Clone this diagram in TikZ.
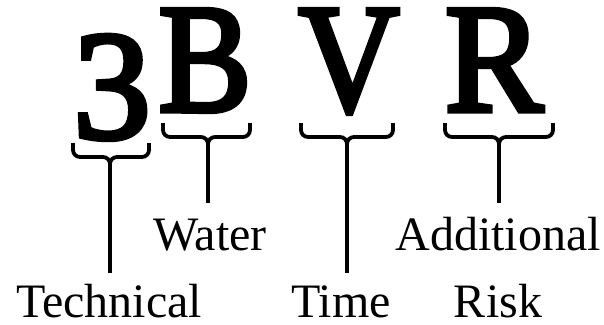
\documentclass[tikz,border=0pt]{standalone}
\usepackage{fontspec}
\setmainfont{Liberation Serif}
\newfontfamily\bigfont[FakeBold=3.5]{Liberation Serif}
\begin{document}
\begin{tikzpicture}[x=1pt,y=-1pt,
  big/.style={font=\fontsize{155}{155}\selectfont\bigfont, inner sep=0pt, anchor=base},
  lbl/.style={font=\fontsize{48}{48}\selectfont, inner sep=0pt, anchor=base},
  bracepart/.style={line width=3.8pt, rounded corners=7pt, line join=round},
  conn/.style={line width=3.8pt}]
\useasboundingbox (0,0) rectangle (604,324);
% big letters
\node[big] (L3) at (112,138) {3};
\node[big] (LB) at (205,111) {\scalebox{0.9}[1]{B}};
\node[big] (LV) at (349,111) {\scalebox{0.9}[1]{V}};
\node[big] (LR) at (494,111) {\scalebox{0.95}[1]{R}};
% labels
\node[lbl] (tech) at (109,317) {Technical};
\node[lbl] (water) at (210,250) {Water};
\node[lbl] (time) at (341,317) {Time};
\node[lbl] (add) at (498,250) {Additional};
\node[lbl] (risk) at (498,317) {Risk};
% brace tips
\coordinate (t3) at (110,166);
\coordinate (tB) at (208,146);
\coordinate (tV) at (347,146);
\coordinate (tR) at (499,146);
% braces
\draw[bracepart] (73,143) -- (73,157) -- (110,157) -- (t3);
\draw[bracepart] (149,143) -- (149,157) -- (110,157) -- (t3);
\draw[bracepart] (163,123) -- (163,137) -- (208,137) -- (tB);
\draw[bracepart] (250,123) -- (250,137) -- (208,137) -- (tB);
\draw[bracepart] (301,123) -- (301,137) -- (347,137) -- (tV);
\draw[bracepart] (393,123) -- (393,137) -- (347,137) -- (tV);
\draw[bracepart] (445,123) -- (445,137) -- (499,137) -- (tR);
\draw[bracepart] (553,123) -- (553,137) -- (499,137) -- (tR);
% connectors
\coordinate (e3) at (110,273);
\coordinate (eB) at (208,203);
\coordinate (eV) at (347,273);
\coordinate (eR) at (499,203);
\draw[conn] (t3) -- (e3);
\draw[conn] (tB) -- (eB);
\draw[conn] (tV) -- (eV);
\draw[conn] (tR) -- (eR);
\end{tikzpicture}
\end{document}
